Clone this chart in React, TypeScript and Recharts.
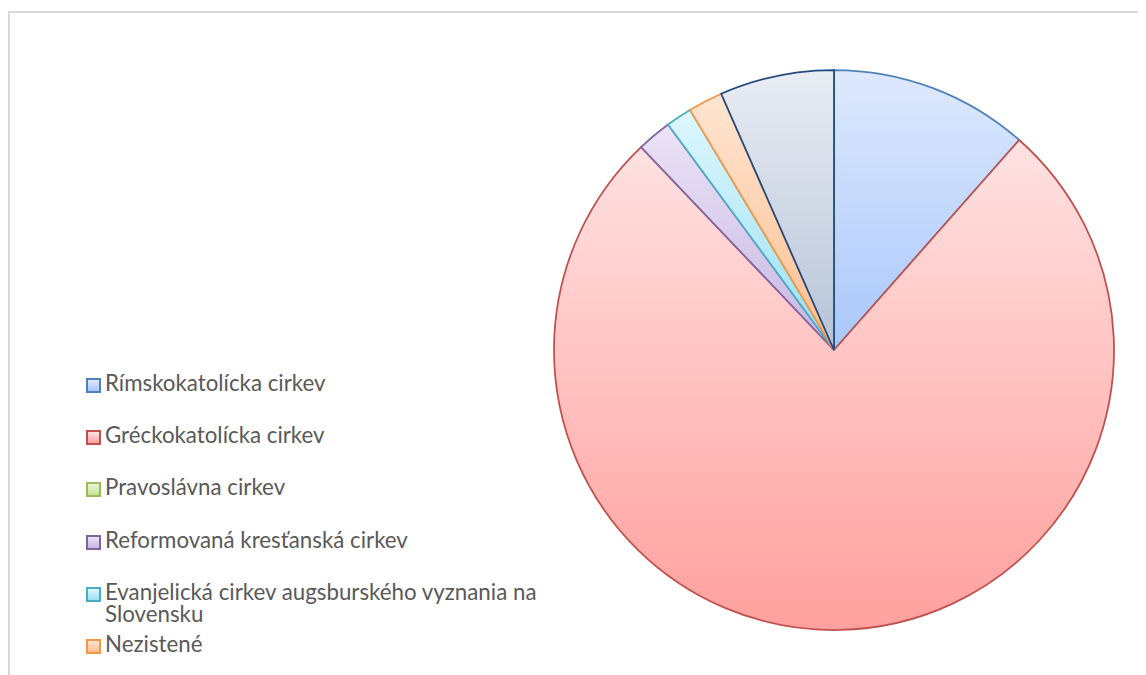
import React from 'react';
import { PieChart, Pie, Cell } from 'recharts';

// religious affiliation shares (%), clockwise from 12 o'clock
const names = [
  'Rímskokatolícka cirkev',
  'Gréckokatolícka cirkev',
  'Pravoslávna cirkev',
  'Reformovaná kresťanská cirkev',
  'Evanjelická cirkev augsburského vyznania na Slovensku',
  'Nezistené',
  'Bez vyznania',
];
const shares = [11.5, 76.4, 0, 2.0, 1.5, 2.0, 6.6];

// legend in the source is cut off after this many entries
const visibleLegendItems = 6;

const strokeColors = ['#4f81bd', '#c0504d', '#9bbb59', '#8064a2', '#4bacc6', '#f79646', '#1f497d'];
const gradTop = ['#dee9fd', '#ffe2e2', '#eaf6d6', '#ebe3f6', '#def7fd', '#ffe5d2', '#e9edf4'];
const gradBottom = ['#a9c7fb', '#ffa09e', '#c5e29a', '#c6b6e2', '#98e0f3', '#ffbf8e', '#b6c3d6'];

const data = names.map((name, i) => ({ name, value: shares[i] }));

const FONT = 'Lato, "Open Sans", sans-serif';

export default function App() {
  return (
    <div style={{ position: 'relative', width: 1138, height: 667, overflow: 'hidden', background: '#fff' }}>
      <div
        style={{
          position: 'absolute',
          left: 0,
          top: 3,
          width: 1200,
          height: 720,
          borderLeft: '2px solid #d9d9d9',
          borderTop: '2px solid #d9d9d9',
        }}
      />
      <div style={{ position: 'absolute', left: 0, top: 0 }}>
        <PieChart width={1138} height={667} margin={{ top: 0, right: 0, bottom: 0, left: 0 }}>
          <defs>
            {strokeColors.map((c, i) => (
              <linearGradient key={`g-${i}`} id={`grad-${i}`} x1="0" y1="0" x2="0" y2="1">
                <stop offset="0%" stopColor={gradTop[i]} />
                <stop offset="100%" stopColor={gradBottom[i]} />
              </linearGradient>
            ))}
          </defs>
          <Pie
            data={data}
            dataKey="value"
            nameKey="name"
            cx={826}
            cy={342}
            outerRadius={280}
            startAngle={90}
            endAngle={-270}
            isAnimationActive={false}
            strokeWidth={1.75}
          >
            {data.map((d, i) => (
              <Cell key={`c-${i}`} fill={`url(#grad-${i})`} stroke={strokeColors[i]} />
            ))}
          </Pie>
        </PieChart>
      </div>

      {/* legend */}
      <div style={{ position: 'absolute', left: 78, top: 364, width: 470, fontFamily: FONT }}>
        {names.slice(0, visibleLegendItems).map((name, i) => (
          <div
            key={`leg-${i}`}
            style={{ position: 'absolute', top: i * 52.2, left: 0, display: 'flex', alignItems: 'flex-start' }}
          >
            <div
              style={{
                width: 11,
                height: 11,
                marginTop: 6,
                border: `2px solid ${strokeColors[i]}`,
                background: `linear-gradient(${gradTop[i]}, ${gradBottom[i]})`,
                flex: 'none',
              }}
            />
            <div style={{ marginLeft: 4, width: 450, fontSize: 22.3, lineHeight: '22px', color: '#595959' }}>
              {name}
            </div>
          </div>
        ))}
      </div>
    </div>
  );
}
